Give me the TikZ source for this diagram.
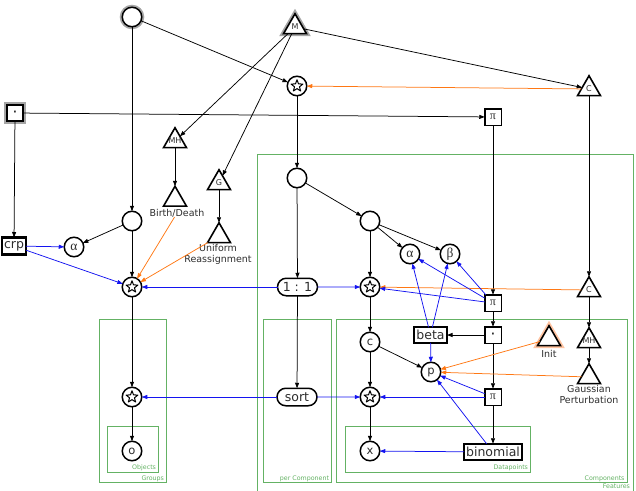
\documentclass[tikz,border=0pt]{standalone}
\usepackage{fontspec}
\setmainfont{DejaVu Sans}
\newfontfamily\grk{Liberation Serif}
\usetikzlibrary{shapes.geometric,shapes.misc,arrows.meta}
\definecolor{frgreen}{RGB}{100,178,100}
\definecolor{eorange}{RGB}{255,120,20}
\definecolor{eblue}{RGB}{20,20,240}
\definecolor{halogray}{RGB}{165,165,165}
\definecolor{halooran}{RGB}{255,195,160}
\definecolor{txt}{RGB}{45,45,45}
\begin{document}
\begin{tikzpicture}[x=1pt,y=-1pt,
  every node/.style={inner sep=0pt,outer sep=0pt,text=txt},
  circ/.style={circle,draw,fill=white,line width=1.5pt,minimum size=19.5pt},
  starc/.style={circ,path picture={
    \draw[shift={(path picture bounding box.center)},line width=1pt,line join=round]
      (-90:6.2) -- (-54:2.6) -- (-18:6.2) -- (18:2.6) -- (54:6.2) -- (90:2.6)
      -- (126:6.2) -- (162:2.6) -- (198:6.2) -- (234:2.6) -- cycle;}},
  gk/.style={circ,font=\grk\fontsize{13.5}{13.5}\selectfont},
  lt/.style={circ,font=\fontsize{11.5}{11.5}\selectfont},
  sq/.style={rectangle,draw,fill=white,line width=1.5pt,minimum size=16.5pt},
  pisq/.style={sq,font=\grk\fontsize{12}{12}\selectfont},
  dotsqs/.style={sq,font=\bfseries\fontsize{10}{10}\selectfont},
  tbox/.style={rectangle,draw,fill=white,line width=2pt,font=\fontsize{12.5}{12.5}\selectfont},
  pill/.style={rounded rectangle,draw,fill=white,line width=1.5pt,minimum width=40pt,minimum height=17.5pt,font=\fontsize{12.5}{12.5}\selectfont},
  tri/.style={regular polygon,regular polygon sides=3,draw,fill=white,line width=1.6pt,minimum size=26.5pt},
  tlet/.style={label={[font=\fontsize{8}{8}\selectfont,text=txt]center:#1}},
  graylo/.style={preaction={draw=halogray,line width=5pt}},
  lbl/.style={font=\fontsize{9.5}{10.5}\selectfont,align=center},
  frame/.style={draw=frgreen,line width=0.8pt},
  flbl/.style={anchor=base east,text=frgreen,font=\fontsize{6.3}{6.3}\selectfont},
  edge/.style={draw=black,line width=0.75pt,-{Triangle[length=5.5pt,width=4pt]}},
  bedge/.style={edge,draw=eblue,-{Triangle[length=5.5pt,width=4pt,fill=eblue]}},
  oedge/.style={edge,draw=eorange,-{Triangle[length=5.5pt,width=4pt,fill=eorange]}}]
\useasboundingbox (0,0) rectangle (636,490);
% frames
\draw[frame] (257,154) rectangle (633,494);
\draw[frame] (99,319) rectangle (166,482);
\draw[frame] (107,426) rectangle (158,472);
\draw[frame] (263,319) rectangle (331,482);
\draw[frame] (336,319) rectangle (627,482);
\draw[frame] (345,426) rectangle (530,472);
\node[flbl] (lObj) at (156,469.5) {Objects};
\node[flbl] (lGrp) at (164,480) {Groups};
\node[flbl] (lPer) at (329,480) {per Component};
\node[flbl] (lDat) at (528,469.5) {Datapoints};
\node[flbl] (lCmp) at (624.5,480) {Components};
\node[flbl] (lFea) at (630,488.5) {Features};
% nodes
\node[circ,graylo] (topc) at (132,17) {};
\node[tri,graylo,tlet=M] (M) at (295,27) {};
\node[starc] (star1) at (297,86) {};
\node[tri,tlet=C] (Ctop) at (589,89) {};
\node[dotsqs,line width=2.2pt,graylo] (dotsq) at (15,113) {·};
\node[pisq] (pitop) at (493,117) {π};
\node[tri,tlet=MH] (mhl) at (175,141) {};
\node[tri] (bd) at (175,199.5) {};
\node[lbl] (bdl) at (177,213) {Birth/Death};
\node[tri,tlet=G] (G) at (219,183) {};
\node[tri] (ur) at (219,236) {};
\node[lbl] (url) at (218,254.5) {Uniform\\Reassignment};
\node[circ] (cml) at (132,221) {};
\node[tbox,line width=2.2pt,minimum width=24pt,minimum height=17pt] (crp) at (14,246) {crp};
\node[gk] (al) at (74,247) {α};
\node[starc] (starl) at (132,287) {};
\node[circ] (cf) at (297,178) {};
\node[circ] (cr) at (370,221) {};
\node[gk] (ar) at (410,254) {α};
\node[gk] (br) at (450,254) {β};
\node[pill] (one) at (297.5,287) {1 : 1};
\node[starc] (starr) at (370,287) {};
\node[tri,tlet=C] (Cmid) at (589,290) {};
\node[pisq] (pimid) at (493,303) {π};
\node[tbox,minimum width=33pt,minimum height=15.5pt] (beta) at (430.5,335) {beta};
\node[dotsqs] (dotmid) at (493,335) {·};
\node[tri,preaction={draw=halooran,line width=5pt}] (init) at (549,339) {};
\node[lbl] (initl) at (549,354) {Init};
\node[tri,tlet=MH] (mhr) at (589,341) {};
\node[lt] (c) at (370,342) {c};
\node[lt] (p) at (431,372) {p};
\node[tri] (gauss) at (589,377) {};
\node[lbl] (gaussl) at (589,394.5) {Gaussian\\Perturbation};
\node[starc] (starll) at (132,397) {};
\node[pill] (sort) at (297,397) {sort};
\node[starc] (starlr) at (370,397) {};
\node[pisq] (pilow) at (493,397) {π};
\node[lt] (o) at (132,451) {o};
\node[lt] (x) at (370,451) {x};
\node[tbox,minimum width=58pt,minimum height=16.5pt] (binom) at (493,452) {binomial};
% edges
\draw[edge] (topc) -- (star1);
\draw[edge] (topc) -- (cml);
\draw[edge] (M) -- (mhl);
\draw[edge] (M) -- (G);
\draw[edge] (M) -- (Ctop);
\draw[oedge] (Ctop) -- (star1);
\draw[edge] (dotsq) -- (pitop);
\draw[edge] (dotsq) -- (crp);
\draw[edge] (star1) -- (cf);
\draw[edge] (pitop) -- (pimid);
\draw[edge] (Ctop) -- (Cmid);
\draw[edge] (mhl) -- (bd);
\draw[edge] (G) -- (ur);
\draw[oedge] (bdl) -- (starl);
\draw[oedge] (ur) -- (starl);
\draw[edge] (cml) -- (al);
\draw[edge] (cml) -- (starl);
\draw[bedge] (crp) -- (al);
\draw[bedge] (crp) -- (starl);
\draw[bedge] (one) -- (starl);
\draw[bedge] (one) -- (starr);
\draw[edge] (cf) -- (one);
\draw[edge] (cf) -- (cr);
\draw[edge] (one) -- (sort);
\draw[edge] (cr) -- (ar);
\draw[edge] (cr) -- (br);
\draw[edge] (cr) -- (starr);
\draw[oedge] (Cmid) -- (starr);
\draw[bedge] (pimid) -- (starr);
\draw[bedge] (pimid) -- (ar);
\draw[bedge] (pimid) -- (br);
\draw[bedge] (beta) -- (ar);
\draw[bedge] (beta) -- (br);
\draw[bedge] (beta) -- (p);
\draw[edge] (starr) -- (c);
\draw[edge] (c) -- (starlr);
\draw[edge] (starlr) -- (x);
\draw[edge] (c) -- (p);
\draw[edge] (dotmid) -- (beta);
\draw[edge] (pimid) -- (dotmid);
\draw[edge] (dotmid) -- (pilow);
\draw[edge] (pilow) -- (binom);
\draw[bedge] (pilow) -- (p);
\draw[bedge] (binom) -- (p);
\draw[bedge] (binom) -- (x);
\draw[bedge] (pilow) -- (starlr);
\draw[bedge] (sort) -- (starll);
\draw[bedge] (sort) -- (starlr);
\draw[oedge] (init) -- (p);
\draw[oedge] (gauss) -- (p);
\draw[edge] (Cmid) -- (mhr);
\draw[edge] (mhr) -- (gauss);
\draw[edge] (starl) -- (starll);
\draw[edge] (starll) -- (o);
\end{tikzpicture}
\end{document}
